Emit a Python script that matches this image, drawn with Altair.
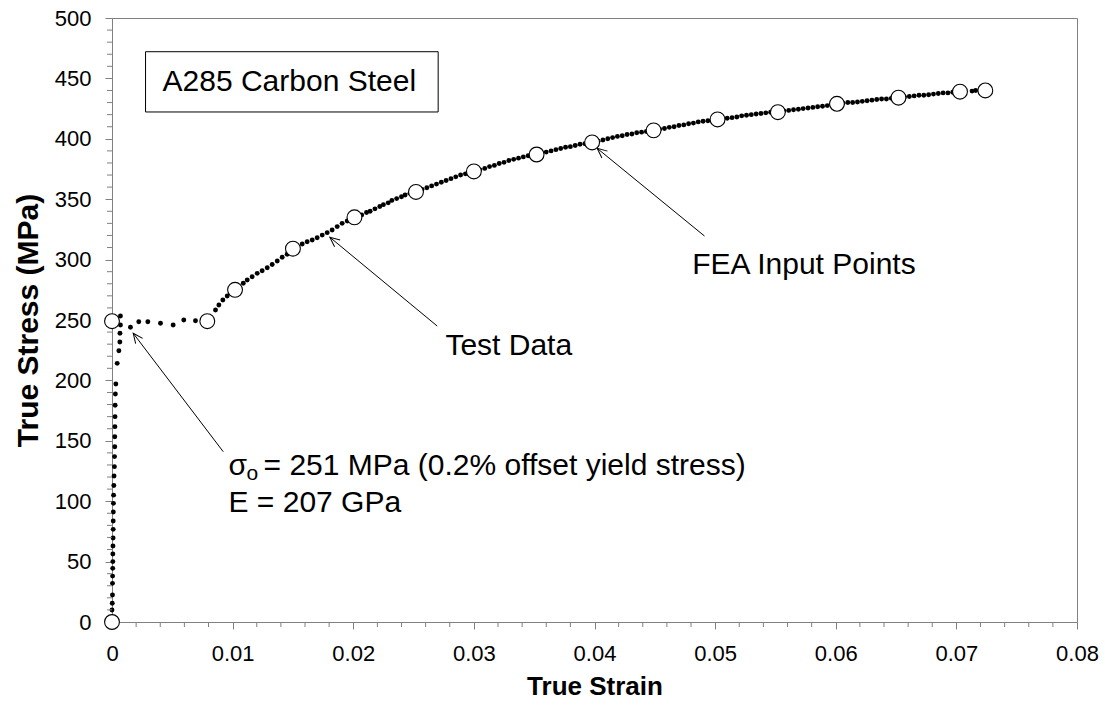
import math
import altair as alt
import pandas as pd

# ---- FEA input points (open circles) ----
fea_strain = [0.0, 0.0, 0.0079, 0.0102, 0.0150, 0.0201, 0.0252, 0.0300, 0.0352,
              0.0398, 0.0449, 0.0502, 0.0552, 0.0601, 0.0652, 0.0703, 0.0724]
fea_stress = [0, 249, 249, 275, 309, 335, 356, 373, 387,
              397, 407, 416, 422, 429, 434, 439, 440]

# ---- tensile test data (small dots) ----
elastic_strain = [0.0, 0.00002, 0.00004, 0.00004, 0.00005, 0.00006, 0.00007, 0.00007,
                  0.00008, 0.00009, 0.00010, 0.00010, 0.00011, 0.00012, 0.00013, 0.00015,
                  0.00017, 0.00020, 0.00021, 0.00023, 0.00023, 0.00024, 0.00025, 0.00026,
                  0.00028, 0.00032, 0.00043, 0.00057, 0.00065, 0.00066, 0.00070, 0.00070]
elastic_stress = [9.9, 15.5, 22.4, 32.0, 38.0, 44.4, 50.0, 56.3,
                  62.9, 69.5, 76.7, 83.6, 91.0, 98.2, 105.0, 113.0,
                  120.9, 128.6, 136.9, 145.1, 153.4, 161.7, 170.0, 179.4,
                  188.7, 197.0, 214.1, 224.6, 231.8, 239.0, 245.9, 253.3]

plateau_strain = [0.00153, 0.00222, 0.00297, 0.00402, 0.00507, 0.00595, 0.00692]
plateau_stress = [244.0, 248.6, 248.6, 247.3, 245.9, 250.0, 249.4]

hardening_strain = [
    0.00858, 0.00886, 0.00919, 0.00955,
    0.01088, 0.01121, 0.01162, 0.01204, 0.01245, 0.01287, 0.01328, 0.01370, 0.01411, 0.01452,
    0.01577, 0.01618, 0.01660, 0.01701, 0.01743, 0.01784, 0.01825, 0.01867, 0.01908, 0.01950,
    0.0207, 0.0211, 0.0214, 0.0218, 0.0222, 0.0225, 0.0229, 0.0232, 0.0236, 0.0240, 0.0243, 0.0247,
    0.0257, 0.0261, 0.0265, 0.0269, 0.0273, 0.0277, 0.0281, 0.0285, 0.0289, 0.0293, 0.0297,
    0.0305, 0.0309, 0.0313, 0.0317, 0.0321, 0.0325, 0.0329, 0.0333, 0.0337, 0.0341, 0.0345, 0.0348,
    0.0356, 0.0360, 0.0364, 0.0368, 0.0372, 0.0376, 0.0380, 0.0384, 0.0388, 0.0392,
    0.0403, 0.0407, 0.0411, 0.0415, 0.0419, 0.0423, 0.0427, 0.0431, 0.0435, 0.0439, 0.0443,
    0.0454, 0.0458, 0.0462, 0.0466, 0.0470, 0.0474, 0.0478, 0.0482, 0.0486, 0.0490, 0.0494, 0.0498,
    0.0506, 0.0510, 0.0514, 0.0518, 0.0522, 0.0526, 0.0530, 0.0534, 0.0538, 0.0542, 0.0546,
    0.0557, 0.0561, 0.0565, 0.0569, 0.0573, 0.0577, 0.0581, 0.0585, 0.0589, 0.0593, 0.0597,
    0.0606, 0.0610, 0.0614, 0.0618, 0.0622, 0.0626, 0.0630, 0.0634, 0.0638, 0.0642, 0.0646,
    0.0657, 0.0661, 0.0665, 0.0669, 0.0673, 0.0677, 0.0681, 0.0685, 0.0689, 0.0693, 0.0697,
    0.0713, 0.0716,
]
hardening_stress = [
    258.3, 262.4, 266.6, 269.9,
    280.4, 283.1, 285.8, 288.6, 290.8, 293.3, 296.0, 298.8, 301.9, 304.4,
    312.9, 314.8, 316.2, 318.1, 320.3, 322.3, 324.5, 327.3, 330.0, 332.0,
    337.0, 339.0, 340.0, 342.0, 344.0, 345.5, 347.0, 349.0, 350.5, 352.0, 353.5, 355.0,
    358.0, 359.5, 361.0, 362.5, 364.0, 365.5, 367.0, 368.5, 370.0, 371.0, 372.0,
    374.3, 375.5, 377.0, 378.0, 379.5, 380.5, 382.0, 383.0, 384.0, 385.0, 386.0, 386.5,
    388.0, 389.0, 390.0, 391.0, 392.0, 393.0, 393.5, 394.5, 395.5, 396.0,
    398.0, 399.0, 400.0, 401.0, 402.0, 402.5, 403.5, 404.0, 405.0, 405.5, 406.0,
    408.0, 408.5, 409.5, 410.0, 411.0, 411.5, 412.5, 413.0, 414.0, 414.5, 415.0, 415.5,
    416.5, 417.0, 417.5, 418.0, 419.0, 419.5, 420.0, 420.5, 421.0, 421.5, 422.0,
    423.0, 423.5, 424.0, 424.5, 425.0, 425.5, 426.0, 426.5, 427.0, 427.5, 428.0,
    429.5, 430.0, 430.0, 430.5, 431.0, 431.5, 432.0, 432.5, 433.0, 433.0, 433.5,
    434.5, 435.0, 435.5, 436.0, 436.0, 436.5, 437.0, 437.5, 438.0, 438.0, 438.5,
    439.5, 440.0,
]

test_strain = elastic_strain + plateau_strain + hardening_strain
test_stress = elastic_stress + plateau_stress + hardening_stress

# ---- axis ticks ----
x_major = [round(i * 0.01, 2) for i in range(9)]
x_minor = [round(i * 0.002, 3) for i in range(41) if i % 5 != 0]
y_major = list(range(0, 501, 50))
y_minor = [v for v in range(0, 501, 10) if v % 50 != 0]

# ---- annotation arrows: (tail strain, tail stress, tip strain, tip stress) ----
arrow_tail_x = [0.00922, 0.02696, 0.04912]
arrow_tail_y = [141.0, 245.0, 319.5]
arrow_tip_x = [0.00176, 0.01806, 0.04022]
arrow_tip_y = [239.0, 318.5, 392.1]

W, H = 965, 604
X_MAX, Y_MAX = 0.08, 500
FONT = "Liberation Sans"
GREY = "#808080"
ANN_SIZE = 30

sx, sy = W / X_MAX, H / Y_MAX
arrow_angle = []
for tx, ty, hx, hy in zip(arrow_tail_x, arrow_tail_y, arrow_tip_x, arrow_tip_y):
    dxp = (hx - tx) * sx
    dyp = -(hy - ty) * sy
    arrow_angle.append(math.degrees(math.atan2(dxp, -dyp)) % 360)

test_df = pd.DataFrame({"strain": test_strain, "stress": test_stress})
fea_df = pd.DataFrame({"strain": fea_strain, "stress": fea_stress})
arrow_df = pd.DataFrame({"x": arrow_tail_x, "y": arrow_tail_y,
                         "x2": arrow_tip_x, "y2": arrow_tip_y, "ang": arrow_angle})

x_scale = alt.Scale(domain=[0, X_MAX], nice=False, zero=False)
y_scale = alt.Scale(domain=[0, Y_MAX], nice=False, zero=False)

x_axis = alt.Axis(
    title="True Strain", values=x_major,
    labelExpr="datum.value == 0 ? '0' : format(datum.value, '.2f')",
    tickSize=7, labelOverlap=False, labelFlush=False, labelPadding=14,
    labelFont=FONT, labelFontSize=22, labelColor="black",
    titleFont=FONT, titleFontSize=26, titleFontWeight="bold", titleColor="black",
    titleX=W / 2, titleY=64, titleAlign="center", titleBaseline="middle",
    grid=False, domainColor=GREY, tickColor=GREY,
)
y_axis = alt.Axis(
    title="True Stress (MPa)", values=y_major, format="d",
    tickSize=7, labelOverlap=False, labelFlush=False, labelPadding=14,
    labelFont=FONT, labelFontSize=22, labelColor="black",
    titleFont=FONT, titleFontSize=30, titleFontWeight="bold", titleColor="black",
    titleX=-84, titleY=H / 2, titleAngle=270, titleAlign="center", titleBaseline="middle",
    grid=False, domainColor=GREY, tickColor=GREY,
)

dots = alt.Chart(test_df).mark_point(filled=True, color="black", size=24, opacity=1).encode(
    x=alt.X("strain:Q", scale=x_scale, axis=x_axis),
    y=alt.Y("stress:Q", scale=y_scale, axis=y_axis),
)

# minor ticks outside the plot frame
x_minor_ticks = alt.Chart(pd.DataFrame({"v": x_minor})).mark_rule(color=GREY, strokeWidth=1).encode(
    x="v:Q", y=alt.value(H), y2=alt.value(H + 5)
)
y_minor_ticks = alt.Chart(pd.DataFrame({"v": y_minor})).mark_rule(color=GREY, strokeWidth=1).encode(
    y="v:Q", x=alt.value(0), x2=alt.value(-5)
)

circles = alt.Chart(fea_df).mark_point(
    filled=False, fill="white", fillOpacity=1, stroke="black", strokeWidth=1.1, size=220, opacity=1
).encode(x="strain:Q", y="stress:Q")

arrow_lines = alt.Chart(arrow_df).mark_rule(color="black", strokeWidth=1).encode(
    x="x:Q", y="y:Q", x2="x2:Q", y2="y2:Q"
)
arrow_heads = alt.Chart(arrow_df).mark_point(
    shape="M-0.45,1L0,0L0.45,1", filled=False, stroke="black", strokeWidth=1, size=380, opacity=1
).encode(x="x2:Q", y="y2:Q", angle=alt.Angle("ang:Q", scale=None))

# label box
box_df = pd.DataFrame({"x": [0.00278], "x2": [0.02704], "y": [472.1], "y2": [422.2]})
box = alt.Chart(box_df).mark_rect(fill="white", stroke="black", strokeWidth=1).encode(
    x="x:Q", x2="x2:Q", y="y:Q", y2="y2:Q"
)

label_df = pd.DataFrame({
    "text": ["A285 Carbon Steel", "Test Data", "FEA Input Points", "E = 207 GPa"],
    "x": [0.00419, 0.02764, 0.0481, 0.00966],
    "y": [447.4, 228.5, 295.5, 98.5],
})
labels = alt.Chart(label_df).mark_text(
    align="left", baseline="middle", font=FONT, fontSize=ANN_SIZE, color="black"
).encode(x="x:Q", y="y:Q", text="text:N")

sigma_df = pd.DataFrame({"x": [0.00966], "y": [129.1]})
sigma = alt.Chart(sigma_df).mark_text(
    text="σ", align="left", baseline="middle", font=FONT, fontSize=ANN_SIZE, color="black"
).encode(x="x:Q", y="y:Q")
sigma_sub = alt.Chart(sigma_df).mark_text(
    text="o", align="left", baseline="middle", font=FONT, fontSize=21, color="black", dx=18, dy=8
).encode(x="x:Q", y="y:Q")
sigma_rest = alt.Chart(sigma_df).mark_text(
    text=" = 251 MPa (0.2% offset yield stress)", align="left", baseline="middle",
    font=FONT, fontSize=ANN_SIZE, color="black", dx=35
).encode(x="x:Q", y="y:Q")

chart = alt.layer(
    dots, x_minor_ticks, y_minor_ticks, arrow_lines, arrow_heads, circles,
    box, labels, sigma, sigma_sub, sigma_rest
).properties(
    width=W, height=H, autosize="none",
    padding={"left": 112, "top": 18, "right": 28, "bottom": 93},
).configure_view(stroke=GREY, strokeWidth=1)

chart.save("out.html", embed_options={"renderer": "svg", "actions": False})
